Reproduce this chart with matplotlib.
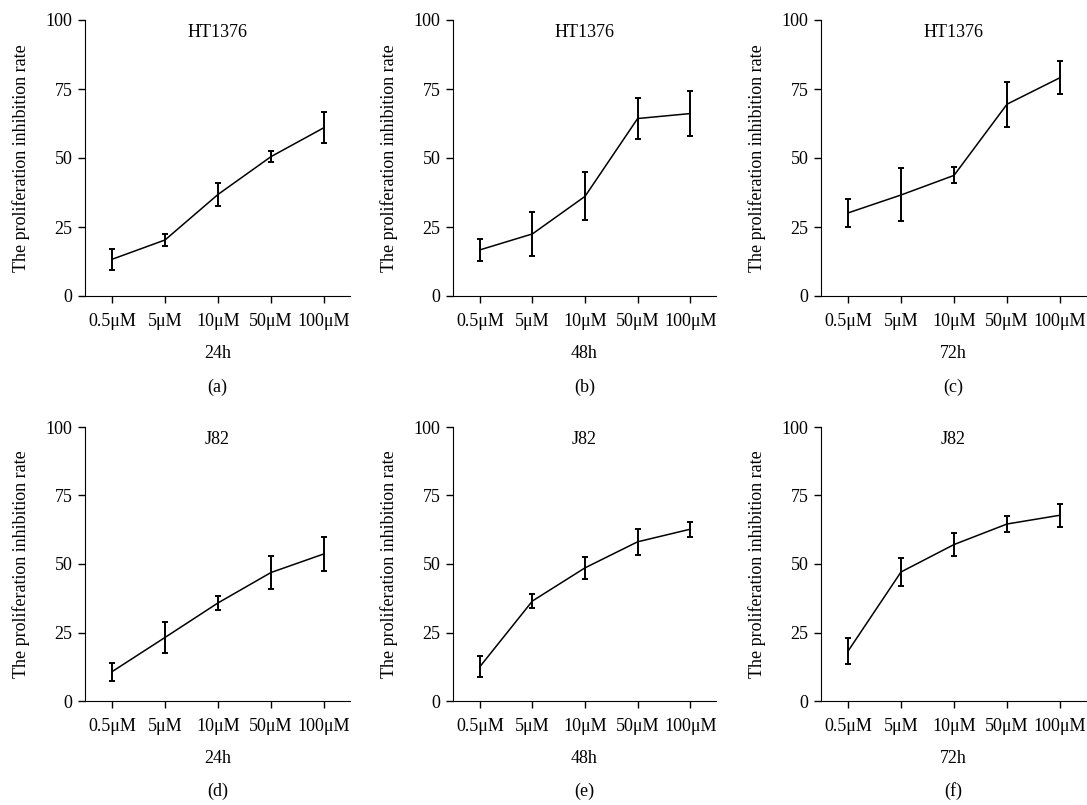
import matplotlib
matplotlib.use("Agg")
import matplotlib.pyplot as plt
import numpy as np

plt.rcParams['font.family'] = ['Liberation Serif', 'DejaVu Serif']

doses = ["0.5μM", "5μM", "10μM", "50μM", "100μM"]
cell_lines = ["HT1376", "HT1376", "HT1376", "J82", "J82", "J82"]
times = ["24h", "48h", "72h", "24h", "48h", "72h"]
letters = ["(a)", "(b)", "(c)", "(d)", "(e)", "(f)"]

# mean inhibition rate and error per panel
ht_24 = [13.3, 20.3, 36.8, 50.5, 61.0]
ht_24_err = [3.7, 2.3, 4.3, 2.0, 5.6]
ht_48 = [16.7, 22.5, 36.1, 64.3, 66.1]
ht_48_err = [4.0, 7.9, 8.7, 7.3, 8.1]
ht_72 = [30.1, 36.6, 43.7, 69.5, 79.1]
ht_72_err = [5.1, 9.6, 2.9, 8.1, 6.0]
j82_24 = [10.7, 23.2, 35.8, 46.9, 53.7]
j82_24_err = [3.3, 5.6, 2.5, 6.2, 6.2]
j82_48 = [12.5, 36.5, 48.6, 58.1, 62.7]
j82_48_err = [3.8, 2.4, 4.1, 4.8, 2.8]
j82_72 = [18.2, 47.1, 57.1, 64.6, 67.8]
j82_72_err = [4.8, 5.2, 4.1, 2.9, 4.2]

means = [ht_24, ht_48, ht_72, j82_24, j82_48, j82_72]
errs = [ht_24_err, ht_48_err, ht_72_err, j82_24_err, j82_48_err, j82_72_err]

W, H = 1087, 805
fig = plt.figure(figsize=(W / 100, H / 100), dpi=100)

lefts = [85, 453, 821]
rights = [350, 716, 1086]
rows = [(20, 296), (427, 701)]
fs = 13

x = np.arange(len(doses))
for i in range(6):
    r, c = divmod(i, 3)
    top, bot = rows[r]
    ax = fig.add_axes([lefts[c] / W, 1 - bot / H,
                       (rights[c] - lefts[c]) / W, (bot - top) / H])
    ax.errorbar(x, means[i], yerr=errs[i], color="black", lw=1.1,
                elinewidth=1.4, capsize=2, capthick=1.4)
    ax.set_xlim(-0.51, 4.49)
    ax.set_ylim(0, 100)
    ax.set_yticks([0, 25, 50, 75, 100])
    ax.set_xticks(x)
    ax.set_xticklabels(doses)
    ax.spines["top"].set_visible(False)
    ax.spines["right"].set_visible(False)
    ax.tick_params(direction="out", length=5, width=1, labelsize=fs)
    ax.tick_params(axis="x", pad=7)
    ax.tick_params(axis="y", pad=4)
    ax.set_ylabel("The proliferation inhibition rate", fontsize=fs, labelpad=11)
    ax.set_xlabel(times[i], fontsize=fs, labelpad=11)
    ax.text(0.5, 0.985, cell_lines[i], transform=ax.transAxes,
            ha="center", va="top", fontsize=fs)
    ax.text(0.5, -0.33, letters[i], transform=ax.transAxes,
            ha="center", va="center", fontsize=fs)

fig.savefig("out.png", dpi=100)
